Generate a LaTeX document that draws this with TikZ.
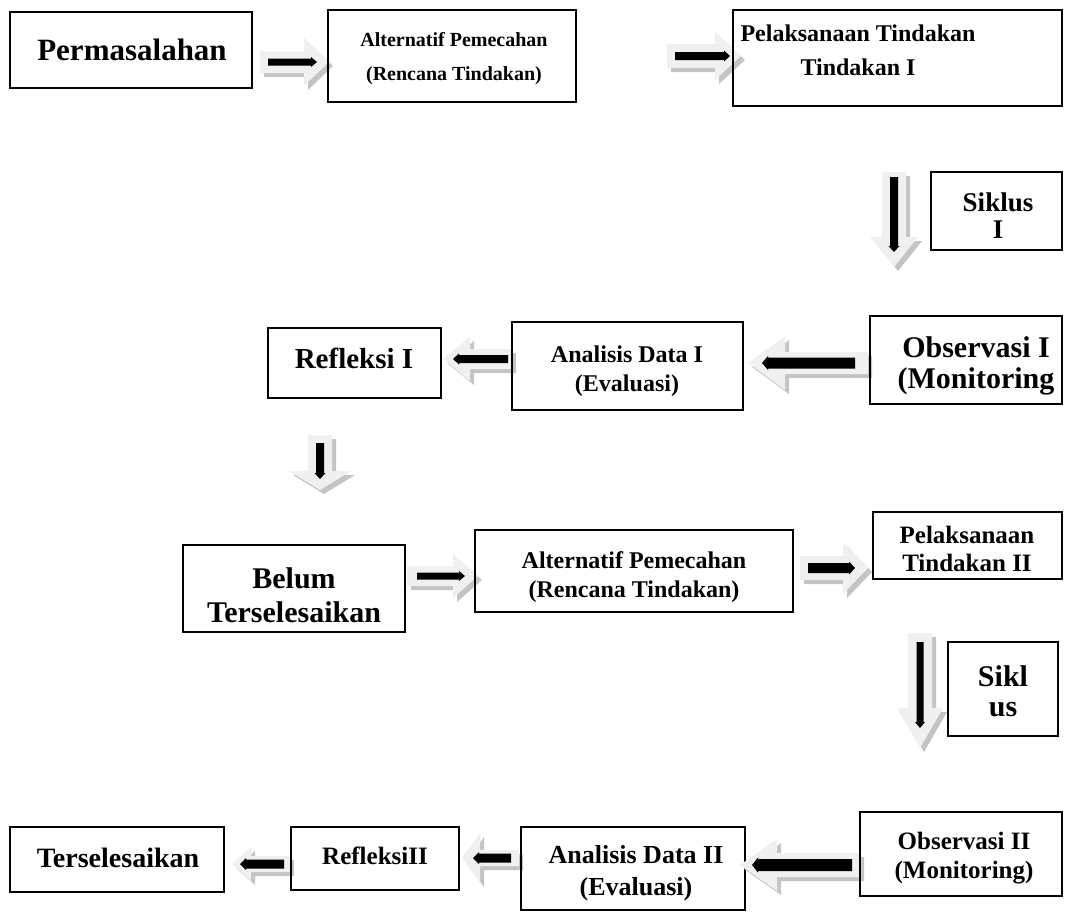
\documentclass[tikz,border=0pt]{standalone}
\usepackage{fontspec}
\setmainfont{Liberation Serif}
\definecolor{arrlight}{HTML}{F0F0F0}
\definecolor{arrshadow}{HTML}{C4C4C4}
\newcommand\barrow[9]{%
 \begin{scope}[shift={(#1)}]
  \fill[arrshadow, shift={(4,4)}, rotate=#2] (0,-#4) -- (#3-#6,-#4) -- (#3-#6,-#5) -- (#3,0) -- (#3-#6,#5) -- (#3-#6,#4) -- (0,#4) -- cycle;
  \fill[arrlight, rotate=#2] (0,-#4) -- (#3-#6,-#4) -- (#3-#6,-#5) -- (#3,0) -- (#3-#6,#5) -- (#3-#6,#4) -- (0,#4) -- cycle;
  \fill[black, rotate=#2] (#7,-#9) -- (#8-6,-#9) -- (#8-6,-#9-1.5) -- (#8,0) -- (#8-6,#9+1.5) -- (#8-6,#9) -- (#7,#9) -- cycle;
 \end{scope}}
\tikzset{
  box/.style={draw=black, line width=1.7pt},
  lbl/.style={font=\bfseries, align=center, inner sep=0pt, anchor=center},
}
\newcommand\fs[1]{\fontsize{#1}{#1}\selectfont}
\begin{document}
\begin{tikzpicture}[x=1pt,y=-1pt]
\useasboundingbox (0,0) rectangle (1068,916);
% ---------- row 1
\draw[box] (10,12) rectangle (252,88);
\node[lbl] (t1) at (132,50) {\fs{31}Permasalahan};
\barrow{260,62}{0}{69}{11}{24}{25}{8}{57}{3.5}
\draw[box] (328,10) rectangle (576,102);
\node[lbl] (t2a) at (454,40) {\fs{20}Alternatif Pemecahan};
\node[lbl] (t2b) at (454,76) {\fs{20}(Rencana Tindakan)};
\barrow{667,56}{0}{74}{12}{24}{26}{8}{63}{4}
\draw[box] (733,10) rectangle (1062,106);
\node[lbl] (t3a) at (858,33) {\fs{24}Pelaksanaan Tindakan};
\node[lbl] (t3b) at (858,67) {\fs{24}Tindakan I};
% ---------- siklus I
\barrow{894,172}{-90}{95}{12}{24}{30}{5}{80}{4}
\draw[box] (931,172) rectangle (1062,250);
\node[lbl] (s1a) at (998,202) {\fs{27}Siklus};
\node[lbl] (s1b) at (998,230) {\fs{27}I};
% ---------- row 3
\draw[box] (268,328) rectangle (441,398);
\node[lbl] (r1) at (354,358) {\fs{29}Refleksi I};
\barrow{512,359}{180}{69}{10}{22}{27}{4}{59}{4}
\draw[box] (512,322) rectangle (743,410);
\node[lbl] (a1a) at (627,354) {\fs{24}Analisis Data I};
\node[lbl] (a1b) at (627,386) {\fs{24}(Evaluasi)};
\barrow{868,363}{180}{120}{11}{27}{37}{13}{106}{5.5}
\draw[box] (870,316) rectangle (1062,404);
\node[lbl] (o1a) at (976,347) {\fs{30}Observasi I};
\node[lbl] (o1b) at (976,381) {\fs{30}(Monitoring};
% ---------- down arrow
\barrow{320,435}{-90}{55}{12}{31}{19}{8}{44}{4}
% ---------- row 4
\draw[box] (183,545) rectangle (405,632);
\node[lbl] (b1) at (294,578) {\fs{30}Belum};
\node[lbl] (b2) at (294,612) {\fs{30}Terselesaikan};
\barrow{407,576}{0}{71}{10}{22}{25}{10}{58}{3.5}
\draw[box] (475,530) rectangle (793,612);
\node[lbl] (t4a) at (634,560) {\fs{24}Alternatif Pemecahan};
\node[lbl] (t4b) at (634,592) {\fs{24}(Rencana Tindakan)};
\barrow{800,568}{0}{68}{12}{26}{25}{8}{55}{5}
\draw[box] (873,512) rectangle (1062,579);
\node[lbl] (p4a) at (967,535) {\fs{25}Pelaksanaan};
\node[lbl] (p4b) at (967,563) {\fs{25}Tindakan II};
% ---------- siklus II
\barrow{920,633}{-90}{115}{12}{23}{40}{9}{95}{3.5}
\draw[box] (948,642) rectangle (1058,736);
\node[lbl] (s2a) at (1003,676) {\fs{30}Sikl};
\node[lbl] (s2b) at (1003,710) {\fs{30}us};
% ---------- row 5
\draw[box] (10,827) rectangle (224,892);
\node[lbl] (f1) at (118,858) {\fs{28}Terselesaikan};
\barrow{290,864}{180}{58}{8}{17}{19}{6}{50}{4.5}
\draw[box] (291,827) rectangle (459,890);
\node[lbl] (r2) at (375,856) {\fs{25}RefleksiII};
\barrow{519,858}{180}{57}{8}{25}{18}{8}{46}{4.5}
\draw[box] (521,827) rectangle (745,910);
\node[lbl] (a2a) at (636,855) {\fs{26}Analisis Data II};
\node[lbl] (a2b) at (636,889) {\fs{26}(Evaluasi)};
\barrow{860,865}{180}{120}{12}{26}{37}{8}{108}{6}
\draw[box] (860,812) rectangle (1062,896);
\node[lbl] (o2a) at (964,841) {\fs{25}Observasi II};
\node[lbl] (o2b) at (964,873) {\fs{25}(Monitoring)};
\end{tikzpicture}
\end{document}
